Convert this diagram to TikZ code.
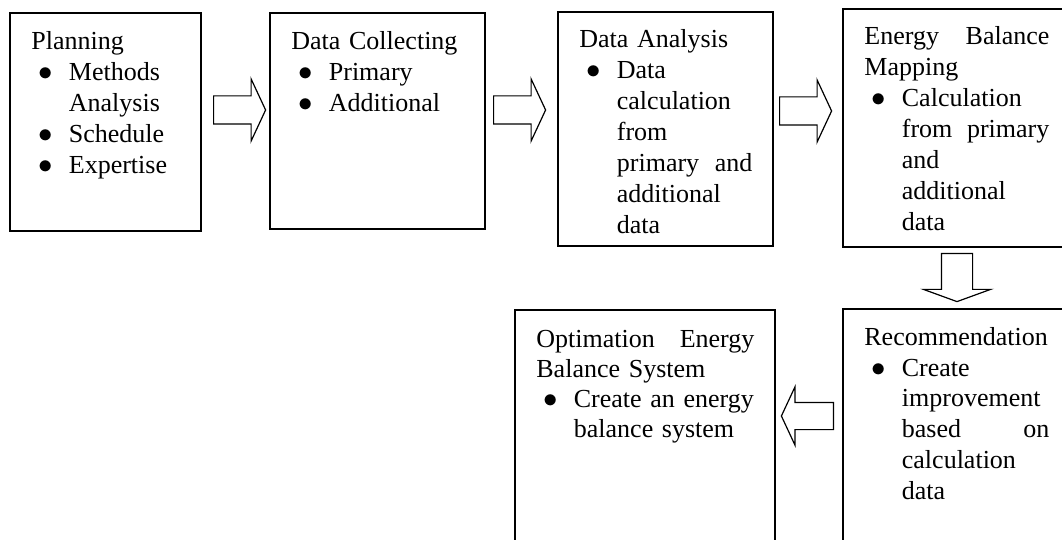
\documentclass[tikz,border=0pt]{standalone}
\usepackage{fontspec}
\setmainfont{Liberation Serif}
\usetikzlibrary{shapes.arrows,positioning,calc}

\newcommand{\bul}{\makebox[18.75pt][l]{\hspace*{3.5pt}{\fontsize{14}{14}\selectfont$\bullet$}}}
\newcommand{\ind}{\hspace*{18.75pt}}
\newcommand{\spread}[3]{\makebox[#1][l]{#2\hfill#3}}

\begin{document}
\begin{tikzpicture}[x=0.5pt,y=-0.5pt,
	stepbox/.style={draw,line width=0.9pt,rectangle,inner sep=0pt,outer sep=0pt,anchor=north west},
	steptext/.style={anchor=base west,inner sep=0pt,align=left,font=\fontsize{13}{15.5}\selectfont},
	flowarrow/.style={draw,line width=0.6pt,single arrow,inner xsep=0pt,inner ysep=6.75pt,
		minimum height=26pt,single arrow head extend=8.5pt,single arrow tip angle=130,anchor=tail}]
		\useasboundingbox (0,0) rectangle (1062,540);
		\clip (0,0) rectangle (1062,540);
		%
		\node[stepbox,minimum width=95.5pt,minimum height=109pt] (plan) at (10,13) {};
		\node[stepbox,minimum width=107.5pt,minimum height=108pt] (coll) at (270,13) {};
		\node[stepbox,minimum width=107.5pt,minimum height=117pt] (anal) at (558,12) {};
		\node[stepbox,minimum width=114pt,minimum height=119pt] (map) at (843,9) {};
		\node[stepbox,minimum width=114pt,minimum height=126pt] (rec) at (843,309) {};
		\node[stepbox,minimum width=130pt,minimum height=125pt] (opt) at (515,310) {};
		%
		\node[steptext,text width=86pt] (plan-txt) at ([shift={(21,37)}]plan.north west)
			{Planning\\ \bul Methods\\ \ind Analysis\\ \bul Schedule\\ \bul Expertise};
		\node[steptext,text width=98pt] (coll-txt) at ([shift={(21,37)}]coll.north west)
			{Data Collecting\\ \bul Primary\\ \bul Additional};
		\node[steptext,text width=98pt] (anal-txt) at ([shift={(21,36)}]anal.north west)
			{Data Analysis\\ \bul Data\\ \ind calculation\\ \ind from\\
			\ind\spread{67.75pt}{primary}{and}\\ \ind additional\\ \ind data};
		\node[steptext,text width=104pt] (map-txt) at ([shift={(21,36)}]map.north west)
			{\spread{92.5pt}{Energy}{Balance}\\ Mapping\\ \bul Calculation\\
			\ind\spread{73.75pt}{from}{primary}\\ \ind and\\ \ind additional\\ \ind data};
		\node[steptext,text width=104pt] (rec-txt) at ([shift={(21,36)}]rec.north west)
			{Recommendation\\ \bul Create\\ \ind improvement\\
			\ind\spread{73.75pt}{based}{on}\\ \ind calculation\\ \ind data};
		\node[steptext,text width=121pt,font=\fontsize{13}{15}\selectfont] (opt-txt) at ([shift={(21,38)}]opt.north west)
			{\spread{109pt}{Optimation}{Energy}\\ Balance System\\
			\bul Create an energy\\ \ind balance system};
		%
		\node[flowarrow] (a1) at (213,110) {};
		\node[flowarrow] (a2) at (493,110) {};
		\node[flowarrow] (a3) at (779,111) {};
		\node[flowarrow,rotate=-90,minimum height=24pt,inner ysep=7.5pt,
			single arrow head extend=9pt,single arrow tip angle=140] (a4) at (957,253) {};
		\node[flowarrow,rotate=180,inner ysep=6.5pt,single arrow head extend=7.75pt] (a5) at (834,416) {};
\end{tikzpicture}
\end{document}
